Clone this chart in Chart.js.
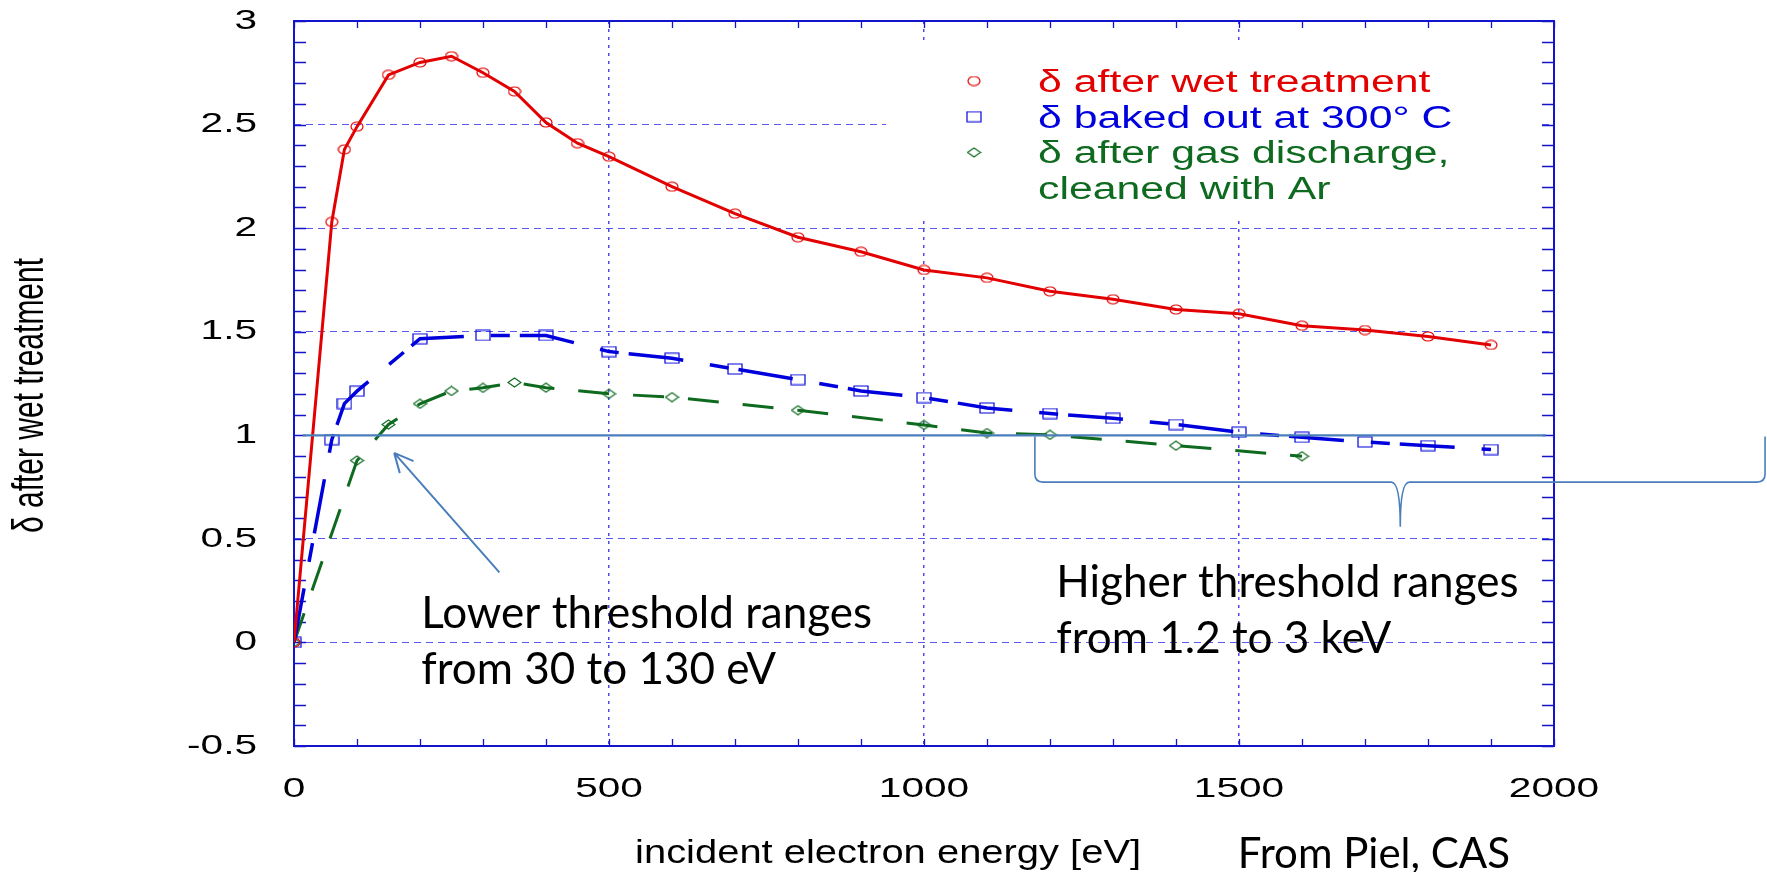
<!DOCTYPE html>
<html>
<head>
<meta charset="utf-8">
<script src="https://cdn.jsdelivr.net/npm/chart.js@4.4.1/dist/chart.umd.min.js"></script>
<style>
html,body{margin:0;padding:0;background:#fff;overflow:hidden}
#wrap{width:1767px;height:872px;position:relative}
</style>
</head>
<body>
<div id="wrap"><canvas id="c"></canvas></div>
<script>
// ---------- data ----------
const energyWet   = [0, 60, 80, 100, 150, 200, 250, 300, 350, 400, 450, 500, 600, 700, 800, 900, 1000, 1100, 1200, 1300, 1400, 1500, 1600, 1700, 1800, 1900];
const deltaWet    = [0, 2.03, 2.38, 2.49, 2.74, 2.80, 2.83, 2.75, 2.66, 2.51, 2.41, 2.345, 2.20, 2.07, 1.956, 1.886, 1.798, 1.760, 1.695, 1.657, 1.607, 1.587, 1.529, 1.508, 1.477, 1.436];
const energyBaked = [0, 60, 80, 100, 200, 300, 400, 500, 600, 700, 800, 900, 1000, 1100, 1200, 1300, 1400, 1500, 1600, 1700, 1800, 1900];
const deltaBaked  = [0, 0.979, 1.153, 1.213, 1.466, 1.482, 1.482, 1.404, 1.372, 1.320, 1.269, 1.214, 1.182, 1.132, 1.105, 1.082, 1.052, 1.015, 0.990, 0.968, 0.950, 0.931];
const energyGas   = [0, 100, 150, 200, 250, 300, 350, 400, 500, 600, 800, 1000, 1100, 1200, 1400, 1600];
const deltaGas    = [0, 0.878, 1.052, 1.152, 1.214, 1.229, 1.255, 1.230, 1.200, 1.184, 1.121, 1.050, 1.011, 1.002, 0.950, 0.899];

const seriesNames = ['δ after wet treatment', 'δ baked out at 300° C', 'δ after gas discharge, cleaned with Ar'];
const legendLines = [['δ after wet treatment'], ['δ baked out at 300° C'], ['δ after gas discharge,', 'cleaned with Ar']];

const xTickValues = [0, 500, 1000, 1500, 2000];
const xTickLabels = ['0', '500', '1000', '1500', '2000'];
const yTickValues = [-0.5, 0, 0.5, 1, 1.5, 2, 2.5, 3];
const yTickLabels = ['-0.5', '0', '0.5', '1', '1.5', '2', '2.5', '3'];

const xTitle = 'incident electron energy [eV]';
const yTitle = 'δ after wet treatment';
const noteLower  = ['Lower threshold ranges', 'from 30 to 130 eV'];
const noteHigher = ['Higher threshold ranges', 'from 1.2 to 3 keV'];
const sourceNote = 'From Piel, CAS';
const thresholdLevel = 1;

// ---------- styles ----------
const RED = '#e20000', BLUE = '#0000dc', GREEN = '#0e6a1f';
const AXIS = '#1414cc', ANNO = '#4a7ebb';
const TICKFONT = '28px "Liberation Sans", Arial, sans-serif';
const NOTEFONT = '44px Lato, "Open Sans", sans-serif';

function marker(shape, color, w, h) {
  const c = document.createElement('canvas');
  c.width = w; c.height = h;
  const g = c.getContext('2d');
  g.strokeStyle = color; g.lineWidth = 1.2;
  g.beginPath();
  if (shape === 'circle') g.ellipse(w / 2, h / 2, w / 2 - 1, h / 2 - 1, 0, 0, Math.PI * 2);
  else if (shape === 'rect') g.rect(1, 1, w - 2, h - 2);
  else { g.moveTo(1, h / 2); g.lineTo(w / 2, 1); g.lineTo(w - 1, h / 2); g.lineTo(w / 2, h - 1); g.closePath(); }
  g.stroke();
  return c;
}
const mCircle = marker('circle', RED, 14, 11);
const mRect = marker('rect', BLUE, 16, 12);
const mDiamond = marker('diamond', GREEN, 15, 11);

function pts(xs, ys) { return xs.map((v, i) => ({ x: v, y: ys[i] })); }

function sText(ctx, text, x, y, font, color, sx, align, base) {
  ctx.save();
  ctx.font = font; ctx.fillStyle = color;
  ctx.textAlign = align || 'left'; ctx.textBaseline = base || 'alphabetic';
  ctx.translate(x, y); ctx.scale(sx, 1);
  ctx.fillText(text, 0, 0);
  ctx.restore();
}

const decor = {
  id: 'decor',
  beforeDatasetsDraw(chart) {
    const { ctx, chartArea: a, scales: { x, y } } = chart;
    ctx.save();
    // legend background box (hides grid lines)
    const bx = x.getPixelForValue(940);
    ctx.fillStyle = '#fff';
    ctx.fillRect(bx, a.top + 24, a.right - 14 - bx, 176);
    // axis frame
    ctx.strokeStyle = AXIS; ctx.lineWidth = 2;
    ctx.strokeRect(a.left, a.top, a.right - a.left, a.bottom - a.top);
    // minor ticks
    ctx.lineWidth = 1.3;
    ctx.beginPath();
    for (let i = -5; i <= 30; i++) {
      const p = Math.round(y.getPixelForValue(i / 10)) + 0.5;
      ctx.moveTo(a.left, p); ctx.lineTo(a.left + 12, p);
      ctx.moveTo(a.right, p); ctx.lineTo(a.right - 12, p);
    }
    for (let i = 0; i <= 20; i++) {
      const p = Math.round(x.getPixelForValue(i * 100)) + 0.5;
      ctx.moveTo(p, a.top); ctx.lineTo(p, a.top + 7);
      ctx.moveTo(p, a.bottom); ctx.lineTo(p, a.bottom - 7);
    }
    ctx.stroke();
    ctx.restore();
  },
  afterDraw(chart) {
    const { ctx, chartArea: a, scales: { x, y } } = chart;
    // tick labels
    yTickValues.forEach((v, i) => sText(ctx, yTickLabels[i], a.left - 37, y.getPixelForValue(v), TICKFONT, '#000', 1.45, 'right', 'middle'));
    xTickValues.forEach((v, i) => sText(ctx, xTickLabels[i], x.getPixelForValue(v), a.bottom + 51, TICKFONT, '#000', 1.45, 'center', 'alphabetic'));
    // axis titles
    sText(ctx, xTitle, x.getPixelForValue(943), a.bottom + 117, '33px "Liberation Sans", Arial, sans-serif', '#000', 1.21, 'center');
    ctx.save();
    ctx.font = '30px "Liberation Sans", Arial, sans-serif'; ctx.fillStyle = '#000';
    ctx.textAlign = 'center'; ctx.textBaseline = 'alphabetic';
    ctx.translate(43, (a.top + a.bottom) / 2 + 12);
    ctx.scale(1.45, 1); ctx.rotate(-Math.PI / 2);
    ctx.fillText(yTitle, 0, 0);
    ctx.restore();
    // legend
    const colors = [RED, BLUE, GREEN];
    const marks = [mCircle, mRect, mDiamond];
    const lx = a.left + 680, tx = a.left + 744;
    let row = 0;
    legendLines.forEach((lines, k) => {
      lines.forEach((t, j) => {
        const by = a.top + 71 + row * 35.7;
        if (j === 0) ctx.drawImage(marks[k], lx - marks[k].width / 2, by - 11 - marks[k].height / 2);
        sText(ctx, t, tx, by, '31px "Liberation Sans", Arial, sans-serif', colors[k], 1.38, 'left');
        row++;
      });
    });
    // threshold line at delta = 1
    ctx.save();
    ctx.strokeStyle = ANNO; ctx.lineWidth = 2.2;
    ctx.beginPath();
    ctx.moveTo(x.getPixelForValue(14), y.getPixelForValue(thresholdLevel));
    ctx.lineTo(x.getPixelForValue(1987), y.getPixelForValue(thresholdLevel));
    ctx.stroke();
    // arrow
    const ax0 = x.getPixelForValue(326), ay0 = y.getPixelForValue(0.338);
    const ax1 = x.getPixelForValue(159), ay1 = y.getPixelForValue(0.915);
    ctx.lineWidth = 2;
    ctx.beginPath(); ctx.moveTo(ax0, ay0); ctx.lineTo(ax1, ay1);
    const ang = Math.atan2(ay0 - ay1, ax0 - ax1);
    [0.45, -0.45].forEach(d => { ctx.moveTo(ax1, ay1); ctx.lineTo(ax1 + 21 * Math.cos(ang + d), ay1 + 21 * Math.sin(ang + d)); });
    ctx.stroke();
    // brace
    const L = x.getPixelForValue(1176), R = x.getPixelForValue(2335), C = x.getPixelForValue(1756);
    const yt = y.getPixelForValue(0.994), ym = y.getPixelForValue(0.774), yc = y.getPixelForValue(0.559);
    const r = 8;
    ctx.lineWidth = 1.6;
    ctx.beginPath();
    ctx.moveTo(L, yt); ctx.lineTo(L, ym - r); ctx.quadraticCurveTo(L, ym, L + r, ym);
    ctx.lineTo(C - 9, ym); ctx.quadraticCurveTo(C, ym, C, yc);
    ctx.quadraticCurveTo(C, ym, C + 9, ym);
    ctx.lineTo(R - r, ym); ctx.quadraticCurveTo(R, ym, R, ym - r); ctx.lineTo(R, yt);
    ctx.stroke();
    ctx.restore();
    // notes
    noteLower.forEach((t, i) => sText(ctx, t, x.getPixelForValue(202), y.getPixelForValue(0.071) + i * 56, NOTEFONT, '#000', 1, 'left'));
    noteHigher.forEach((t, i) => sText(ctx, t, x.getPixelForValue(1210), y.getPixelForValue(0.221) + i * 56, NOTEFONT, '#000', 1, 'left'));
    sText(ctx, sourceNote, x.getPixelForValue(1498), a.bottom + 122, '42px Lato, "Open Sans", sans-serif', '#000', 1, 'left');
  }
};

new Chart(document.getElementById('c'), {
  type: 'line',
  data: {
    datasets: [
      { label: seriesNames[0], data: pts(energyWet, deltaWet), borderColor: RED, borderWidth: 3,
        pointStyle: mCircle, pointRadius: 6, tension: 0, fill: false },
      { label: seriesNames[1], data: pts(energyBaked, deltaBaked), borderColor: BLUE, borderWidth: 3.5,
        borderDash: [55, 27, 19, 10], pointStyle: mRect, pointRadius: 6, tension: 0, fill: false },
      { label: seriesNames[2], data: pts(energyGas, deltaGas), borderColor: GREEN, borderWidth: 3,
        borderDash: [31, 24], pointStyle: mDiamond, pointRadius: 6, tension: 0, fill: false }
    ]
  },
  options: {
    responsive: true,
    maintainAspectRatio: false,
    devicePixelRatio: 1,
    animation: false,
    events: [],
    layout: { padding: { top: 21, right: 213, left: 0, bottom: 0 } },
    plugins: { legend: { display: false }, tooltip: { enabled: false } },
    scales: {
      x: {
        type: 'linear', min: 0, max: 2000,
        ticks: { display: false, stepSize: 500 },
        grid: {
          drawTicks: false, lineWidth: 1.5,
          color: c => (c.tick && c.tick.value > 0 && c.tick.value < 2000) ? 'rgba(45,45,225,0.85)' : 'rgba(0,0,0,0)'
        },
        border: { display: false, dash: [3, 5] },
        afterFit: s => { s.height = 126; }
      },
      y: {
        type: 'linear', min: -0.5, max: 3,
        ticks: { display: false, stepSize: 0.5 },
        grid: {
          drawTicks: false, lineWidth: 1,
          color: c => (c.tick && c.tick.value > -0.5 && c.tick.value < 3) ? 'rgba(60,60,235,0.85)' : 'rgba(0,0,0,0)'
        },
        border: { display: false, dash: [7, 5] },
        afterFit: s => { s.width = 294; }
      }
    }
  },
  plugins: [decor]
});
</script>
</body>
</html>
